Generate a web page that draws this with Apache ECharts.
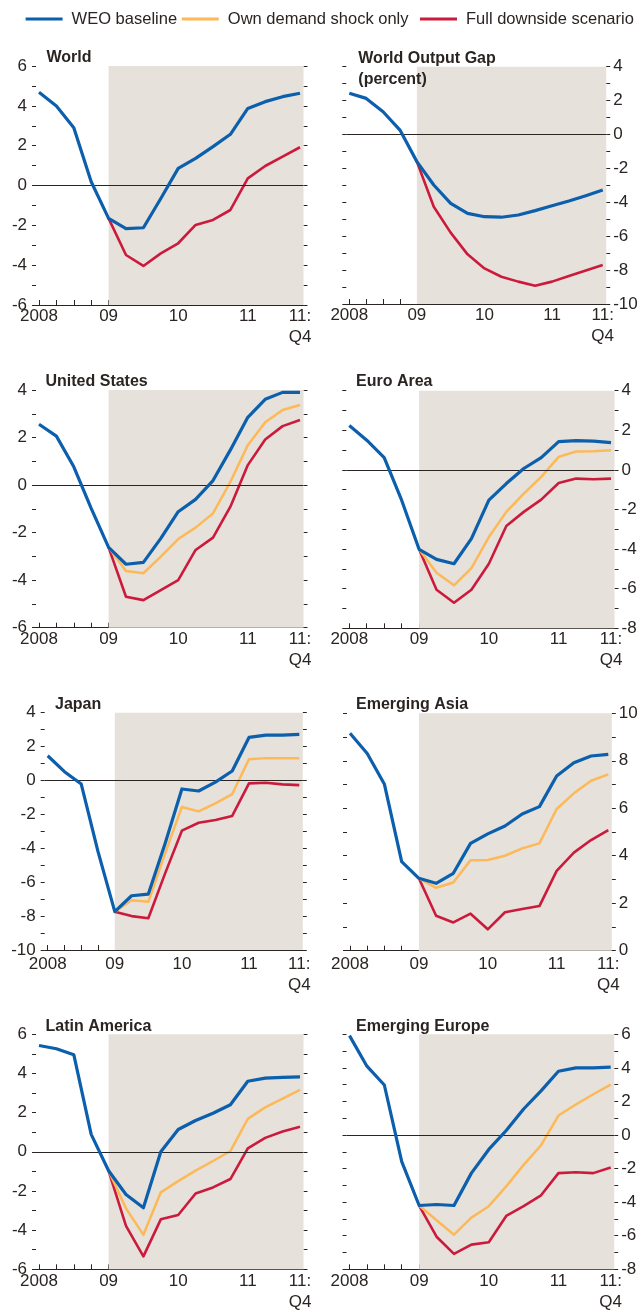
<!DOCTYPE html>
<html><head><meta charset="utf-8">
<script src="https://cdn.jsdelivr.net/npm/echarts@6/dist/echarts.min.js"></script>
<style>html,body{margin:0;padding:0;background:#fff}#c{width:644px;height:1313px}</style>
</head><body><div id="c"></div>
<script>
// ---------- data ----------
const categories = ['2008Q1','2008Q2','2008Q3','2008Q4','2009Q1','2009Q2','2009Q3','2009Q4',
                    '2010Q1','2010Q2','2010Q3','2010Q4','2011Q1','2011Q2','2011Q3','2011Q4'];
const xTickIdx = [0, 4, 8, 12, 15];
const xTickLabels = ['2008', '09', '10', '11', '11:\nQ4'];
const seriesNames = ['WEO baseline', 'Own demand shock only', 'Full downside scenario'];
const panelTitles = ['World', 'World Output Gap\n(percent)', 'United States', 'Euro Area',
                     'Japan', 'Emerging Asia', 'Latin America', 'Emerging Europe'];
const yMins = [-6, -10, -6, -8, -10, 0, -6, -8];
const yMaxs = [6, 4, 4, 4, 4, 10, 6, 6];
const forecastStartIdx = 4;
const N = null;

const worldBaseline = [4.68,3.99,2.90,0.19,-1.65,-2.17,-2.12,-0.65,0.86,1.36,1.95,2.57,3.87,4.21,4.46,4.63];
const worldDownside = [N,N,N,N,-1.65,-3.49,-4.04,-3.41,-2.90,-1.98,-1.73,-1.23,0.36,0.98,1.45,1.92];

const gapBaseline = [2.43,2.13,1.34,0.26,-1.60,-2.98,-4.06,-4.65,-4.85,-4.88,-4.75,-4.49,-4.20,-3.92,-3.61,-3.28];
const gapDownside = [N,N,N,N,-1.60,-4.26,-5.79,-7.07,-7.90,-8.39,-8.68,-8.92,-8.68,-8.35,-8.03,-7.70];

const usBaseline = [2.56,2.06,0.77,-0.98,-2.62,-3.33,-3.25,-2.24,-1.12,-0.60,0.19,1.48,2.85,3.61,3.90,3.90];
const usOwn      = [N,N,N,N,-2.62,-3.61,-3.71,-3.01,-2.27,-1.79,-1.19,0.14,1.68,2.64,3.16,3.37];
const usDownside = [N,N,N,N,-2.62,-4.70,-4.84,-4.42,-4.00,-2.73,-2.21,-0.91,0.84,1.92,2.48,2.74];

const euroBaseline = [2.24,1.50,0.62,-1.53,-4.01,-4.52,-4.74,-3.47,-1.53,-0.69,0.07,0.62,1.43,1.48,1.45,1.38];
const euroOwn      = [N,N,N,N,-4.01,-5.19,-5.83,-4.96,-3.39,-2.12,-1.20,-0.35,0.66,0.93,0.94,0.99];
const euroDownside = [N,N,N,N,-4.01,-6.05,-6.71,-6.05,-4.74,-2.83,-2.12,-1.50,-0.66,-0.44,-0.47,-0.44];

const japanBaseline = [1.46,0.52,-0.21,-4.20,-7.74,-6.80,-6.70,-3.71,-0.50,-0.62,-0.10,0.56,2.54,2.68,2.68,2.72];
const japanOwn      = [N,N,N,N,-7.74,-7.06,-7.16,-4.30,-1.56,-1.82,-1.35,-0.80,1.25,1.32,1.31,1.31];
const japanDownside = [N,N,N,N,-7.74,-8.00,-8.13,-5.48,-2.96,-2.49,-2.33,-2.09,-0.17,-0.13,-0.23,-0.27];

const asiaBaseline = [9.16,8.31,7.01,3.75,3.05,2.84,3.26,4.52,4.92,5.25,5.76,6.07,7.36,7.92,8.20,8.27];
const asiaOwn      = [N,N,N,N,3.05,2.65,2.87,3.81,3.82,4.00,4.31,4.52,5.97,6.63,7.16,7.43];
const asiaDownside = [N,N,N,N,3.05,1.47,1.19,1.56,0.90,1.62,1.76,1.88,3.36,4.13,4.66,5.08];

const latamBaseline = [5.43,5.26,4.96,0.89,-0.97,-2.18,-2.86,0.00,1.14,1.60,1.97,2.40,3.60,3.76,3.80,3.83];
const latamOwn      = [N,N,N,N,-0.97,-2.89,-4.24,-2.07,-1.50,-0.96,-0.47,0.03,1.68,2.27,2.72,3.16];
const latamDownside = [N,N,N,N,-0.97,-3.78,-5.34,-3.45,-3.23,-2.13,-1.82,-1.39,0.17,0.71,1.04,1.28];

const europeBaseline = [5.92,4.10,2.98,-1.59,-4.20,-4.14,-4.20,-2.27,-0.86,0.27,1.55,2.63,3.80,4.00,4.00,4.04];
const europeOwn      = [N,N,N,N,-4.20,-5.08,-5.94,-4.92,-4.24,-3.06,-1.78,-0.61,1.16,1.82,2.43,3.00];
const europeDownside = [N,N,N,N,-4.20,-6.06,-7.08,-6.53,-6.39,-4.82,-4.24,-3.59,-2.27,-2.22,-2.27,-1.94];

// series per panel: [baseline, own demand shock, full downside]
const panelSeries = [
  [worldBaseline, null, worldDownside],
  [gapBaseline, null, gapDownside],
  [usBaseline, usOwn, usDownside],
  [euroBaseline, euroOwn, euroDownside],
  [japanBaseline, japanOwn, japanDownside],
  [asiaBaseline, asiaOwn, asiaDownside],
  [latamBaseline, latamOwn, latamDownside],
  [europeBaseline, europeOwn, europeDownside]
];

// ---------- layout & style ----------
const layout = [
  {x0:39,    x15:300,   top:66,     bottom:305,    side:'left',  tx:46.5, ty:47.3,  lm:1.3},
  {x0:349.3, x15:602.7, top:66.7,   bottom:304,    side:'right', tx:358.3,ty:47.8,  lm:1.3},
  {x0:39,    x15:300,   top:390,    bottom:627.7,  side:'left',  tx:45.5, ty:370.7, lm:0.8},
  {x0:349.3, x15:611,   top:390.7,  bottom:628.3,  side:'right', tx:356,  ty:370.7, lm:0.5},
  {x0:47.7,  x15:299.3, top:712.7,  bottom:950,    side:'left',  tx:55,   ty:694,   lm:3.7},
  {x0:350,   x15:608.3, top:713.3,  bottom:950.7,  side:'right', tx:356,  ty:694.3, lm:3.5},
  {x0:39,    x15:300,   top:1034.3, bottom:1272.3, side:'left',  tx:45.5, ty:1016,  lm:1.7},
  {x0:349.5, x15:610.7, top:1034.3, bottom:1272.3, side:'right', tx:356,  ty:1016,  lm:1.7}
];
const FONT = "'Liberation Sans', Arial, Helvetica, sans-serif";
const TXT = '#2a2522';
const COLORS = ['#0b5fac', '#fdb957', '#cc1a3c'];
const WIDTHS = [3.2, 2.5, 2.6];
const SHADE = '#e6e1da';

const grids = [], xAxes = [], yAxes = [], series = [], titles = [];
layout.forEach((L, k) => {
  const q = (L.x15 - L.x0) / 15;
  const padL = 3, padR = 3.5;
  const gl = L.x0 - padL, gr = L.x15 + padR;
  const xmin = -padL / q, xmax = 15 + padR / q;
  grids.push({left: gl, top: L.top, width: gr - gl, height: L.bottom - L.top, containLabel: false});
  xAxes.push({
    type: 'value', gridIndex: k, min: xmin, max: xmax, position: 'bottom',
    axisLine: {show: true, onZero: false, lineStyle: {color: TXT, width: 1}},
    axisTick: {show: true, inside: true, length: 5, customValues: categories.map((c, i) => i),
               lineStyle: {color: TXT, width: 1}},
    axisLabel: {customValues: xTickIdx, formatter: v => xTickLabels[xTickIdx.indexOf(Math.round(v))],
                margin: L.lm, fontSize: 17, lineHeight: 21, color: TXT, fontFamily: FONT},
    splitLine: {show: false}
  });
  const evens = [];
  for (let v = yMins[k]; v <= yMaxs[k]; v += 2) evens.push(v);
  const other = L.side === 'left' ? 'right' : 'left';
  yAxes.push({
    type: 'value', gridIndex: k, min: yMins[k], max: yMaxs[k], interval: 1, position: L.side,
    axisLine: {show: false, onZero: false}, splitLine: {show: false},
    axisTick: {show: true, inside: false, length: 4, lineStyle: {color: TXT, width: 1}},
    axisLabel: {customValues: evens, formatter: v => String(v), margin: L.side === 'left' ? 9 : 7,
                fontSize: 17, color: TXT, fontFamily: FONT}
  });
  yAxes.push({
    type: 'value', gridIndex: k, min: yMins[k], max: yMaxs[k], interval: 1, position: other,
    axisLine: {show: false, onZero: false}, splitLine: {show: false},
    axisTick: {show: true, inside: false, length: 4, lineStyle: {color: TXT, width: 1}},
    axisLabel: {show: false}
  });
  // helper series: forecast shading and zero line
  const helper = {
    type: 'line', xAxisIndex: k, yAxisIndex: 2 * k, data: [], silent: true, z: 1,
    symbol: 'none', animation: false,
    markArea: {silent: true, itemStyle: {color: SHADE}, label: {show: false},
               data: [[{xAxis: forecastStartIdx}, {xAxis: xmax}]]}
  };
  if (yMins[k] < 0) {
    helper.markLine = {silent: true, symbol: 'none', label: {show: false}, animation: false,
                       lineStyle: {color: TXT, width: 1, type: 'solid'}, data: [{yAxis: 0}]};
  }
  series.push(helper);
  // data series: draw downside first, then own shock, then baseline on top
  [2, 1, 0].forEach(j => {
    const arr = panelSeries[k][j];
    if (!arr) return;
    const pts = [];
    arr.forEach((v, i) => { if (v !== null) pts.push([i, v]); });
    series.push({
      type: 'line', name: seriesNames[j], xAxisIndex: k, yAxisIndex: 2 * k, data: pts,
      symbol: 'none', showSymbol: false, z: 3 + (2 - j), animation: false,
      color: COLORS[j], lineStyle: {color: COLORS[j], width: WIDTHS[j], join: 'round'}
    });
  });
  titles.push({
    text: panelTitles[k], left: L.tx, top: L.ty, padding: 0,
    textStyle: {fontSize: 16, fontWeight: 'bold', color: TXT, fontFamily: FONT, lineHeight: 21}
  });
});

const legendLefts = [25.6, 181.8, 420];
const legends = seriesNames.map((n, j) => ({
  data: [n], left: legendLefts[j], top: 9, padding: 0, icon: 'rect',
  itemWidth: 37, itemHeight: 3, selectedMode: false,
  textStyle: {fontSize: 16.5, color: TXT, fontFamily: FONT, lineHeight: 20, padding: [0, 0, 0, 4]}
}));

const chart = echarts.init(document.getElementById('c'), null, {renderer: 'canvas'});
chart.setOption({
  animation: false,
  backgroundColor: '#ffffff',
  title: titles,
  legend: legends,
  grid: grids,
  xAxis: xAxes,
  yAxis: yAxes,
  series: series
});
</script>
</body></html>
